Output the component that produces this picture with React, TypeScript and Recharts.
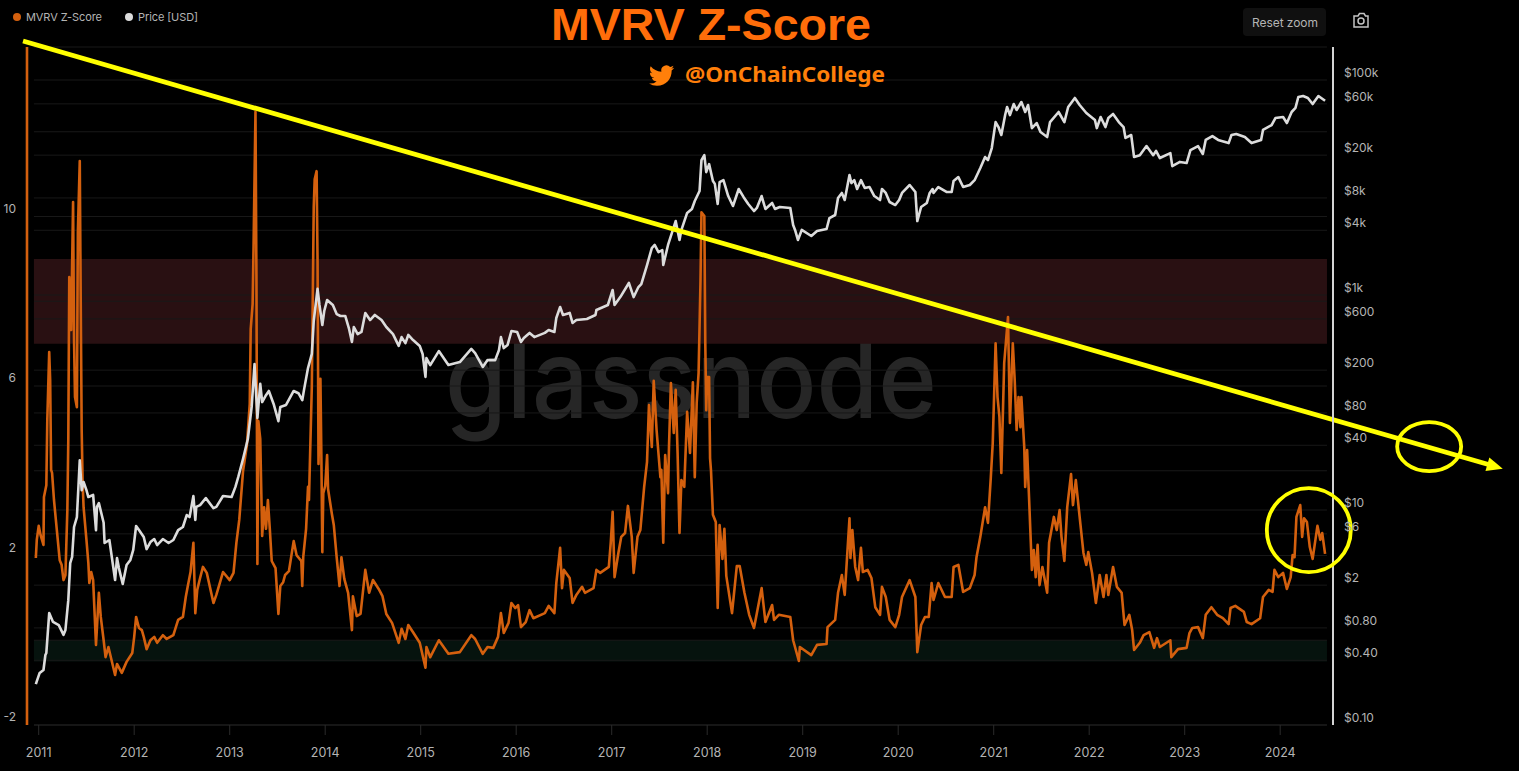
import React from "react";
import {
  ComposedChart,
  Line,
  XAxis,
  YAxis,
  ReferenceArea,
  ReferenceLine,
  ReferenceDot,
} from "recharts";

type P = [number, number];

const yearTicks = [2011, 2012, 2013, 2014, 2015, 2016, 2017, 2018, 2019, 2020, 2021, 2022, 2023, 2024];
const zTickLabels = [-2, 2, 6, 10];
const zGrid = [-2, 0, 2, 4, 6, 8, 10, 12, 14];
const priceTicks = [0.1, 0.4, 0.8, 2, 6, 10, 40, 80, 200, 600, 1000, 4000, 8000, 20000, 60000, 100000];

const zScore2011: P[] = [
  [2010.97, 1.94], [2010.98, 2.37], [2011.0, 2.7], [2011.02, 2.48], [2011.05, 2.25], [2011.055, 3.38], [2011.08, 3.66],
  [2011.09, 5.2], [2011.11, 6.8], [2011.12, 6.14], [2011.13, 4.02], [2011.14, 3.95], [2011.16, 3.31], [2011.19, 2.6],
  [2011.22, 1.89], [2011.24, 1.78], [2011.26, 1.42], [2011.28, 1.54], [2011.3, 3.07], [2011.31, 4.73], [2011.32, 8.57],
  [2011.34, 7.32], [2011.36, 10.34], [2011.37, 7.09], [2011.38, 5.74], [2011.4, 5.5], [2011.41, 9.61], [2011.43, 11.31],
  [2011.44, 8.03], [2011.45, 4.96], [2011.46, 3.71], [2011.47, 3.14], [2011.5, 2.37], [2011.52, 1.82], [2011.53, 1.35],
  [2011.55, 1.61], [2011.57, 1.42], [2011.6, -0.11], [2011.63, 1.12], [2011.65, 0.55], [2011.68, 0.0], [2011.7, -0.4],
  [2011.73, -0.16], [2011.8, -0.82], [2011.82, -0.56], [2011.87, -0.77], [2011.92, -0.51], [2011.98, -0.3],
];
const zScore2012: P[] = [
  [2012.0, 0.08], [2012.02, 0.55], [2012.05, 0.29], [2012.08, 0.24], [2012.1, 0.08], [2012.13, -0.21], [2012.17, 0.0],
  [2012.21, 0.08], [2012.24, -0.06], [2012.3, 0.12], [2012.34, 0.03], [2012.41, 0.12], [2012.46, 0.48], [2012.51, 0.55],
  [2012.54, 1.02], [2012.56, 1.26], [2012.59, 1.61], [2012.62, 2.3], [2012.64, 0.64], [2012.66, 1.19], [2012.69, 1.47],
  [2012.72, 1.73], [2012.76, 1.59], [2012.83, 0.88], [2012.86, 1.07], [2012.93, 1.61],
];
const zScore2013: P[] = [
  [2013.0, 1.42], [2013.04, 1.59], [2013.07, 2.3], [2013.1, 2.84], [2013.13, 3.71], [2013.14, 4.0], [2013.18, 4.6],
  [2013.21, 5.58], [2013.22, 7.34], [2013.24, 7.93], [2013.25, 9.3], [2013.27, 12.47], [2013.28, 8.53], [2013.29, 1.8],
  [2013.3, 5.17], [2013.32, 4.75], [2013.34, 2.46], [2013.36, 3.14], [2013.38, 2.63], [2013.4, 3.31], [2013.42, 2.63],
  [2013.44, 1.87], [2013.48, 1.7], [2013.51, 0.62], [2013.53, 1.28], [2013.56, 1.37], [2013.58, 1.54], [2013.62, 1.63],
  [2013.67, 2.34], [2013.7, 2.01], [2013.75, 1.87], [2013.76, 1.28], [2013.77, 1.96], [2013.8, 2.63], [2013.82, 3.62],
  [2013.83, 3.31], [2013.86, 6.0], [2013.88, 10.22], [2013.89, 10.88], [2013.91, 11.07], [2013.92, 8.95], [2013.93, 4.16],
  [2013.95, 6.17], [2013.96, 4.32], [2013.97, 2.08], [2013.98, 3.47],
];
const zScore2014: P[] = [
  [2014.0, 3.64], [2014.02, 4.37], [2014.03, 3.57], [2014.07, 2.98], [2014.09, 2.72], [2014.12, 1.96], [2014.15, 1.28],
  [2014.17, 1.96], [2014.2, 1.45], [2014.24, 1.12], [2014.28, 0.24], [2014.29, 1.04], [2014.33, 0.57], [2014.37, 0.62],
  [2014.42, 1.66], [2014.46, 1.12], [2014.5, 1.42], [2014.56, 1.21], [2014.6, 1.04], [2014.64, 0.62], [2014.7, 0.41],
  [2014.77, -0.06], [2014.8, 0.27], [2014.84, 0.03], [2014.87, 0.36], [2014.92, 0.19], [2014.99, -0.06],
];
const zScore2015: P[] = [
  [2015.05, -0.65], [2015.06, -0.16], [2015.1, -0.4], [2015.19, 0.0], [2015.29, -0.32], [2015.41, -0.28], [2015.53, 0.12],
  [2015.57, 0.03], [2015.65, -0.32], [2015.7, -0.16], [2015.76, -0.18], [2015.81, 0.08], [2015.84, 0.64], [2015.87, 0.17],
  [2015.92, 0.41], [2015.95, 0.88], [2015.99, 0.76],
];
const zScore2016: P[] = [
  [2016.02, 0.83], [2016.05, 0.31], [2016.1, 0.43], [2016.14, 0.71], [2016.18, 0.52], [2016.3, 0.64], [2016.34, 0.81],
  [2016.4, 0.64], [2016.42, 1.35], [2016.46, 2.18], [2016.48, 1.23], [2016.5, 1.66], [2016.56, 1.47], [2016.59, 0.88],
  [2016.63, 1.07], [2016.69, 1.26], [2016.72, 1.12], [2016.81, 1.23], [2016.84, 1.66], [2016.88, 1.59], [2016.97, 1.73],
  [2016.99, 2.3],
];
const zScore2017: P[] = [
  [2017.01, 3.03], [2017.03, 1.49], [2017.07, 2.06], [2017.1, 2.44], [2017.14, 2.53], [2017.17, 3.17], [2017.21, 2.44],
  [2017.23, 1.59], [2017.27, 2.44], [2017.3, 2.6], [2017.34, 3.62], [2017.37, 4.21], [2017.39, 5.55], [2017.42, 4.56],
  [2017.44, 6.12], [2017.47, 4.96], [2017.51, 3.85], [2017.52, 4.02], [2017.54, 2.3], [2017.56, 4.37], [2017.59, 3.47],
  [2017.6, 4.56], [2017.62, 6.07], [2017.65, 4.89], [2017.67, 5.91], [2017.69, 4.42], [2017.71, 2.53], [2017.73, 3.78],
  [2017.76, 3.62], [2017.79, 5.39], [2017.82, 4.42], [2017.85, 6.09], [2017.87, 3.85], [2017.89, 5.6], [2017.91, 6.31],
  [2017.93, 8.5], [2017.94, 10.1], [2017.97, 10.01], [2017.98, 7.01], [2017.99, 5.43],
];
const zScore2018: P[] = [
  [2018.0, 6.21], [2018.02, 6.21], [2018.03, 4.3], [2018.04, 4.0], [2018.06, 2.96], [2018.09, 2.79], [2018.11, 0.76],
  [2018.13, 2.72], [2018.16, 1.92], [2018.18, 2.63], [2018.2, 1.52], [2018.26, 0.64], [2018.31, 1.75], [2018.34, 1.75],
  [2018.39, 1.12], [2018.44, 0.6], [2018.49, 0.29], [2018.52, 0.64], [2018.57, 1.23], [2018.61, 0.43], [2018.68, 0.83],
  [2018.7, 0.48], [2018.75, 0.6], [2018.87, 0.55], [2018.9, 0.0], [2018.96, -0.49], [2018.97, -0.16],
];
const zScore2019: P[] = [
  [2019.09, -0.35], [2019.15, -0.11], [2019.25, -0.09], [2019.26, 0.31], [2019.34, 0.48], [2019.37, 1.12], [2019.41, 1.54],
  [2019.44, 1.07], [2019.49, 2.88], [2019.5, 1.94], [2019.52, 2.6], [2019.55, 1.73], [2019.58, 1.42], [2019.61, 2.18],
  [2019.63, 1.61], [2019.68, 1.66], [2019.72, 1.47], [2019.76, 0.78], [2019.81, 0.6], [2019.83, 1.26], [2019.87, 1.02],
  [2019.91, 0.48], [2019.97, 0.31],
];
const zScore2020: P[] = [
  [2020.01, 0.6], [2020.04, 1.02], [2020.12, 1.42], [2020.18, 1.02], [2020.2, -0.28], [2020.24, 0.36], [2020.28, 0.55],
  [2020.32, 0.55], [2020.35, 1.35], [2020.37, 0.95], [2020.42, 1.35], [2020.49, 1.02], [2020.56, 1.02], [2020.58, 1.73],
  [2020.63, 1.78], [2020.68, 1.14], [2020.75, 1.23], [2020.8, 1.54], [2020.82, 1.96], [2020.86, 2.44], [2020.91, 3.14],
  [2020.94, 2.77], [2020.97, 3.85], [2020.99, 4.65],
];
const zScore2021: P[] = [
  [2021.02, 7.01], [2021.04, 5.74], [2021.06, 5.27], [2021.08, 3.95], [2021.11, 6.54], [2021.15, 7.63], [2021.17, 5.13],
  [2021.2, 7.01], [2021.22, 6.14], [2021.24, 4.96], [2021.26, 5.74], [2021.28, 5.03], [2021.29, 5.74], [2021.32, 4.56],
  [2021.33, 3.62], [2021.35, 4.49], [2021.37, 3.38], [2021.4, 1.66], [2021.42, 2.13], [2021.44, 1.49], [2021.46, 2.25],
  [2021.48, 1.3], [2021.51, 1.73], [2021.56, 1.12], [2021.58, 2.3], [2021.63, 2.91], [2021.66, 2.6], [2021.69, 3.07],
  [2021.71, 2.44], [2021.74, 1.87], [2021.77, 3.14], [2021.81, 3.92], [2021.83, 3.19], [2021.86, 3.78], [2021.9, 2.91],
  [2021.94, 2.06], [2021.97, 1.78], [2021.99, 2.08],
];
const zScore2022: P[] = [
  [2022.03, 1.59], [2022.07, 0.88], [2022.11, 1.54], [2022.15, 1.02], [2022.18, 1.54], [2022.2, 1.07], [2022.25, 1.73],
  [2022.29, 1.26], [2022.34, 1.12], [2022.37, 0.36], [2022.42, 0.6], [2022.45, 0.24], [2022.47, -0.23], [2022.53, -0.06],
  [2022.57, 0.12], [2022.63, 0.19], [2022.68, -0.18], [2022.71, 0.05], [2022.74, -0.16], [2022.85, 0.0], [2022.86, -0.4],
  [2022.93, -0.21],
];
const zScore2023: P[] = [
  [2023.02, -0.18], [2023.05, 0.17], [2023.08, 0.29], [2023.14, 0.31], [2023.19, 0.05], [2023.22, 0.6], [2023.28, 0.78],
  [2023.34, 0.6], [2023.4, 0.52], [2023.46, 0.38], [2023.48, 0.76], [2023.53, 0.81], [2023.62, 0.67], [2023.65, 0.43],
  [2023.7, 0.38], [2023.79, 0.52], [2023.82, 1.02], [2023.88, 1.19], [2023.92, 1.14], [2023.94, 1.66], [2023.98, 1.49],
];
const zScore2024: P[] = [
  [2024.03, 1.59], [2024.07, 1.21], [2024.11, 1.49], [2024.13, 2.01], [2024.15, 1.96], [2024.17, 2.91], [2024.21, 3.19],
  [2024.23, 2.44], [2024.25, 2.88], [2024.28, 2.79], [2024.31, 2.2], [2024.34, 1.92], [2024.39, 2.7], [2024.42, 2.37],
  [2024.44, 2.53], [2024.47, 2.04],
];

const price2011: P[] = [
  [2010.97, 0.24], [2011.01, 0.305], [2011.05, 0.325], [2011.07, 0.448], [2011.08, 0.468], [2011.11, 1.1], [2011.15, 0.91],
  [2011.21, 0.85], [2011.26, 0.69], [2011.28, 0.766], [2011.31, 1.45], [2011.33, 3.2], [2011.35, 3.66], [2011.37, 6.95],
  [2011.4, 8.6], [2011.43, 29], [2011.45, 15.3], [2011.47, 18.2], [2011.5, 15.3], [2011.52, 13.2], [2011.57, 13.8],
  [2011.6, 6.5], [2011.61, 10.7], [2011.63, 11.6], [2011.68, 7.6], [2011.69, 4.93], [2011.74, 5.26], [2011.8, 2.23],
  [2011.82, 3.57], [2011.84, 2.88], [2011.88, 2.05], [2011.92, 3.08], [2011.96, 3.43], [2011.99, 4.25],
];
const price2012: P[] = [
  [2012.02, 7.1], [2012.05, 6.5], [2012.1, 5.6], [2012.13, 4.33], [2012.17, 5.03], [2012.21, 5.37], [2012.24, 4.72],
  [2012.3, 5.37], [2012.36, 4.93], [2012.41, 5.26], [2012.46, 6.5], [2012.51, 6.95], [2012.55, 8.97], [2012.58, 8.6],
  [2012.62, 13.5], [2012.64, 8.07], [2012.65, 10.7], [2012.69, 11.1], [2012.75, 12.9], [2012.83, 10.4], [2012.86, 10.7],
  [2012.93, 13.5],
];
const price2013: P[] = [
  [2013.02, 13.2], [2013.06, 16.4], [2013.09, 20.3], [2013.14, 30], [2013.19, 45.7], [2013.23, 91], [2013.26, 228],
  [2013.29, 72], [2013.32, 149], [2013.34, 101], [2013.38, 117], [2013.41, 128], [2013.46, 97], [2013.51, 67],
  [2013.53, 91], [2013.59, 95], [2013.67, 128], [2013.72, 122], [2013.76, 105], [2013.78, 134], [2013.82, 209],
  [2013.86, 283], [2013.88, 573], [2013.92, 1140], [2013.94, 807], [2013.97, 526], [2013.99, 710],
];
const price2014: P[] = [
  [2014.02, 897], [2014.08, 807], [2014.12, 665], [2014.16, 638], [2014.21, 638], [2014.25, 483], [2014.28, 366],
  [2014.3, 504], [2014.34, 433], [2014.38, 453], [2014.42, 681], [2014.47, 585], [2014.52, 652], [2014.59, 585],
  [2014.64, 504], [2014.71, 433], [2014.77, 336], [2014.8, 406], [2014.84, 357], [2014.87, 425], [2014.92, 381],
  [2014.99, 336],
];
const price2015: P[] = [
  [2015.02, 283], [2015.05, 173], [2015.06, 259], [2015.1, 223], [2015.19, 301], [2015.29, 223], [2015.41, 238],
  [2015.53, 315], [2015.57, 288], [2015.65, 214], [2015.7, 248], [2015.78, 248], [2015.82, 308], [2015.84, 406],
  [2015.87, 321], [2015.91, 343], [2015.95, 462],
];
const price2016: P[] = [
  [2016.01, 453], [2016.05, 366], [2016.08, 398], [2016.14, 444], [2016.19, 406], [2016.3, 444], [2016.34, 472],
  [2016.4, 453], [2016.42, 611], [2016.46, 773], [2016.49, 652], [2016.56, 681], [2016.59, 550], [2016.63, 585],
  [2016.74, 598], [2016.83, 652], [2016.84, 725], [2016.96, 807],
];
const price2017: P[] = [
  [2017.01, 1114], [2017.03, 807], [2017.09, 957], [2017.18, 1294], [2017.23, 957], [2017.28, 1186], [2017.31, 1265],
  [2017.37, 1900], [2017.42, 2735], [2017.45, 2920], [2017.49, 2510], [2017.53, 2620], [2017.54, 1900], [2017.59, 2920],
  [2017.67, 4875], [2017.71, 3250], [2017.73, 4030], [2017.79, 5800], [2017.84, 6310], [2017.87, 7490], [2017.92, 9270],
  [2017.94, 18000], [2017.97, 20000], [2017.99, 13900],
];
const price2018: P[] = [
  [2018.02, 16500], [2018.06, 11500], [2018.08, 10800], [2018.11, 7030], [2018.13, 11200], [2018.17, 11700], [2018.22, 8330],
  [2018.27, 6730], [2018.33, 9680], [2018.38, 8170], [2018.43, 7030], [2018.49, 6040], [2018.52, 6450], [2018.57, 8330],
  [2018.61, 6310], [2018.68, 7180], [2018.71, 6310], [2018.76, 6590], [2018.87, 6450], [2018.9, 4480], [2018.92, 4030],
  [2018.95, 3250], [2018.99, 4030],
];
const price2019: P[] = [
  [2019.09, 3540], [2019.15, 3940], [2019.25, 4110], [2019.28, 5200], [2019.34, 5550], [2019.37, 7980], [2019.41, 8900],
  [2019.44, 7650], [2019.49, 13060], [2019.51, 11000], [2019.54, 11700], [2019.57, 9680], [2019.61, 11700], [2019.65, 9890],
  [2019.7, 10100], [2019.75, 8330], [2019.81, 7650], [2019.83, 9680], [2019.87, 8900], [2019.91, 7330], [2019.97, 6870],
];
const price2020: P[] = [
  [2020.01, 7650], [2020.04, 8900], [2020.12, 10550], [2020.18, 9080], [2020.2, 4875], [2020.24, 6590], [2020.3, 7180],
  [2020.33, 8900], [2020.36, 9680], [2020.37, 8900], [2020.42, 10100], [2020.51, 9080], [2020.56, 9080], [2020.58, 11500],
  [2020.63, 12500], [2020.68, 10100], [2020.75, 10550], [2020.8, 11700], [2020.86, 15200], [2020.91, 19200], [2020.94, 18000],
  [2020.98, 23300],
];
const price2021: P[] = [
  [2021.02, 40600], [2021.05, 36500], [2021.08, 30800], [2021.12, 47200], [2021.14, 56100], [2021.17, 47200], [2021.21, 59800],
  [2021.24, 52600], [2021.29, 62400], [2021.33, 50400], [2021.36, 58500], [2021.4, 35700], [2021.45, 39800], [2021.49, 32800],
  [2021.56, 29500], [2021.59, 40600], [2021.68, 50400], [2021.74, 40600], [2021.78, 56100], [2021.85, 68100], [2021.9, 58500],
  [2021.97, 49300],
];
const price2022: P[] = [
  [2022.06, 42500], [2022.08, 35700], [2022.12, 45300], [2022.17, 36500], [2022.2, 44300], [2022.25, 48300], [2022.31, 40600],
  [2022.36, 36500], [2022.38, 28900], [2022.44, 30800], [2022.47, 19200], [2022.53, 20000], [2022.6, 24300], [2022.67, 20000],
  [2022.7, 21900], [2022.74, 18800], [2022.85, 20900], [2022.87, 15800], [2022.95, 17300],
];
const price2023: P[] = [
  [2023.02, 16900], [2023.06, 22300], [2023.14, 24300], [2023.19, 20500], [2023.22, 27700], [2023.29, 30100], [2023.35, 27700],
  [2023.46, 25900], [2023.49, 30800], [2023.54, 31500], [2023.63, 29500], [2023.7, 25900], [2023.8, 27700], [2023.82, 34300],
  [2023.91, 38100], [2023.95, 44300],
];
const price2024: P[] = [
  [2024.03, 45300], [2024.07, 39800], [2024.12, 50400], [2024.16, 55000], [2024.19, 69500], [2024.24, 71000], [2024.29, 68100],
  [2024.34, 59800], [2024.4, 71000], [2024.47, 64100],
];

const zRows = [
  ...zScore2011, ...zScore2012, ...zScore2013, ...zScore2014, ...zScore2015, ...zScore2016, ...zScore2017,
  ...zScore2018, ...zScore2019, ...zScore2020, ...zScore2021, ...zScore2022, ...zScore2023, ...zScore2024,
].map(([date, z]) => ({ date, z }));
const priceRows = [
  ...price2011, ...price2012, ...price2013, ...price2014, ...price2015, ...price2016, ...price2017,
  ...price2018, ...price2019, ...price2020, ...price2021, ...price2022, ...price2023, ...price2024,
].map(([date, price]) => ({ date, price }));

const X_DOMAIN: P = [2010.8775, 2024.553];
const GRID_FROM = 2010.95;
const GRID_TO = 2024.49;
const TREND: [P, P] = [[2010.836, 14.14], [2026.19, 4.14]];
const ORANGE = "#d4600e";
const LIGHT = "#dcdcdc";
const YELLOW = "#ffff00";
const LABEL = "#b4b4b4";
const GRIDLINE = "#181818";
const FONT = "Inter, sans-serif";

const formatPrice = (v: number) => {
  if (v >= 1000) return `$${v / 1000}k`;
  if (v < 1) return `$${v.toFixed(2)}`;
  return `$${v}`;
};

const TrendArrow = (props: any) => {
  const { x1, y1, x2, y2 } = props;
  const a = Math.atan2(y2 - y1, x2 - x1);
  const cos = Math.cos(a);
  const sin = Math.sin(a);
  const tipX = x2 + 14 * cos;
  const tipY = y2 + 14 * sin;
  return (
    <g>
      <line x1={x1} y1={y1} x2={x2} y2={y2} stroke={YELLOW} strokeWidth={4.8} />
      <polygon
        points={`${tipX},${tipY} ${x2 - 2 * cos + 7 * sin},${y2 - 2 * sin - 7 * cos} ${x2 - 2 * cos - 7 * sin},${y2 - 2 * sin + 7 * cos}`}
        fill={YELLOW}
      />
    </g>
  );
};

const Ring = (rx: number, ry: number) => (props: any) => (
  <ellipse cx={props.cx} cy={props.cy} rx={rx} ry={ry} fill="none" stroke={YELLOW} strokeWidth={3.8} />
);

const Backdrop = () => (
  <svg width={1519} height={771} style={{ position: "absolute", left: 0, top: 0 }}>
    <text x={445} y={418} fontFamily={FONT} fontWeight={500} fontSize={110} fill="#262626" textLength={492} lengthAdjust="spacingAndGlyphs">
      glassnode
    </text>
  </svg>
);

const Overlay = () => (
  <svg width={1519} height={771} style={{ position: "absolute", left: 0, top: 0, pointerEvents: "none" }}>
    <circle cx={17} cy={17} r={4} fill={ORANGE} />
    <text x={26} y={21} fontFamily={FONT} fontSize={11} fill={LABEL} textLength={76}>MVRV Z-Score</text>
    <circle cx={129} cy={17} r={4} fill={LIGHT} />
    <text x={138} y={21} fontFamily={FONT} fontSize={11} fill={LABEL} textLength={60}>Price [USD]</text>

    <text x={551} y={39.5} fontFamily="'Liberation Sans', sans-serif" fontWeight={700} fontSize={43.5} fill="#ff6d0a" textLength={320} lengthAdjust="spacingAndGlyphs">
      MVRV Z-Score
    </text>
    <g transform="translate(649,63) scale(1.05)" fill="#ff7f0a">
      <path d="M23.953 4.57a10 10 0 01-2.825.775 4.958 4.958 0 002.163-2.723c-.951.555-2.005.959-3.127 1.184a4.92 4.92 0 00-8.384 4.482C7.69 8.095 4.067 6.13 1.64 3.162a4.822 4.822 0 00-.666 2.475c0 1.71.87 3.213 2.188 4.096a4.904 4.904 0 01-2.228-.616v.06a4.923 4.923 0 003.946 4.827 4.996 4.996 0 01-2.212.085 4.936 4.936 0 004.604 3.417 9.867 9.867 0 01-6.102 2.105c-.39 0-.779-.023-1.17-.067a13.995 13.995 0 007.557 2.209c9.053 0 13.998-7.496 13.998-13.985 0-.21 0-.42-.015-.63A9.935 9.935 0 0024 4.59z" />
    </g>
    <text x={685} y={82} fontFamily="'Noto Sans', sans-serif" fontWeight={700} fontSize={22} fill="#ff7f0a" textLength={200} lengthAdjust="spacingAndGlyphs">
      @OnChainCollege
    </text>

    <rect x={1243} y={8} width={83} height={28} rx={4} fill="#101010" />
    <text x={1252} y={27} fontFamily={FONT} fontSize={12} fill={LABEL} textLength={66}>Reset zoom</text>
    <g fill="none" stroke="#c4c4c4" strokeWidth={1.5}>
      <path d="M1354 16 h4 l1.5 -2.5 h4.5 l1.5 2.5 h2.5 v11 h-14 z" />
      <circle cx={1361} cy={21} r={3} />
    </g>
  </svg>
);

export default function App() {
  return (
    <div style={{ position: "absolute", left: 0, top: 0, width: 1519, height: 771, background: "#000", overflow: "hidden" }}>
      <Backdrop />
      <div style={{ position: "absolute", left: 0, top: 0 }}>
        <ComposedChart width={1519} height={771} margin={{ top: 47, right: 0, bottom: 0, left: 0 }}>
          <XAxis
            dataKey="date"
            type="number"
            domain={X_DOMAIN}
            ticks={yearTicks}
            interval={0}
            allowDataOverflow
            height={46}
            axisLine={false}
            tickLine={{ stroke: "#2a2a2a" }}
            tickSize={10}
            tick={(p: any) => (
              <text x={p.x} y={757} textAnchor="middle" fontFamily={FONT} fontSize={12.5} fill={LABEL}>
                {p.payload.value}
              </text>
            )}
          />
          <YAxis
            yAxisId="z"
            orientation="left"
            width={27}
            domain={[-2, 14]}
            ticks={zTickLabels}
            interval={0}
            allowDataOverflow
            axisLine={{ stroke: ORANGE, strokeWidth: 2.6 }}
            tickLine={false}
            tick={(p: any) => (
              <text x={16} y={p.y - 4} textAnchor="end" fontFamily={FONT} fontSize={12} fill={LABEL}>
                {p.payload.value}
              </text>
            )}
          />
          <YAxis
            yAxisId="price"
            orientation="right"
            width={186}
            scale="log"
            domain={[0.1, 202800]}
            ticks={priceTicks}
            interval={0}
            allowDataOverflow
            axisLine={{ stroke: "#d4d4d4", strokeWidth: 2 }}
            tickLine={false}
            tick={(p: any) => (
              <text x={1344} y={p.y - 3} textAnchor="start" fontFamily={FONT} fontSize={12} fill={LABEL}>
                {formatPrice(p.payload.value)}
              </text>
            )}
          />

          <ReferenceArea yAxisId="z" x1={GRID_FROM} x2={GRID_TO} y1={7} y2={9} fill="#291012" fillOpacity={1} stroke="none" />
          <ReferenceArea yAxisId="z" x1={GRID_FROM} x2={GRID_TO} y1={-0.5} y2={0} fill="#06130e" fillOpacity={1} stroke="none" />

          {zGrid.map((v) => (
            <ReferenceLine
              key={`z${v}`}
              yAxisId="z"
              segment={[{ x: GRID_FROM, y: v }, { x: GRID_TO, y: v }]}
              stroke={v === -2 ? "#2a2a2a" : GRIDLINE}
            />
          ))}
          {priceTicks.map((v) => (
            <ReferenceLine
              key={`p${v}`}
              yAxisId="price"
              segment={[{ x: GRID_FROM, y: v }, { x: GRID_TO, y: v }]}
              stroke={GRIDLINE}
            />
          ))}

          <Line yAxisId="z" data={zRows} dataKey="z" type="linear" stroke={ORANGE} strokeWidth={2.6} strokeLinejoin="round" dot={false} isAnimationActive={false} />
          <Line yAxisId="price" data={priceRows} dataKey="price" type="linear" stroke={LIGHT} strokeWidth={2.6} strokeLinejoin="round" dot={false} isAnimationActive={false} />

          <ReferenceLine
            yAxisId="z"
            ifOverflow="visible"
            segment={[{ x: TREND[0][0], y: TREND[0][1] }, { x: TREND[1][0], y: TREND[1][1] }]}
            shape={TrendArrow}
          />
          <ReferenceDot yAxisId="z" x={2024.3} y={2.6} r={42} ifOverflow="visible" shape={Ring(42, 42)} />
          <ReferenceDot yAxisId="z" x={2025.56} y={4.57} r={30} ifOverflow="visible" shape={Ring(32, 24.5)} />
        </ComposedChart>
      </div>
      <Overlay />
    </div>
  );
}
